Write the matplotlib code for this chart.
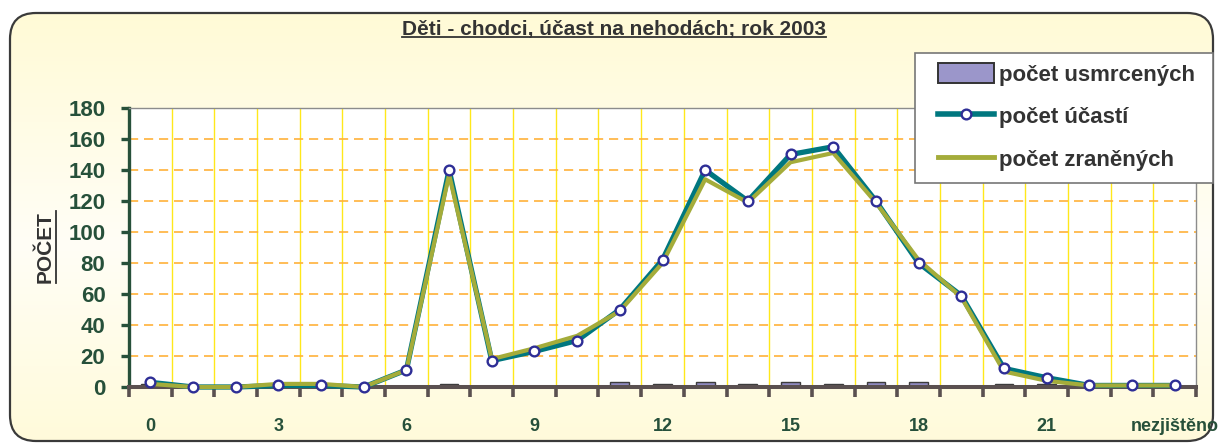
import matplotlib.pyplot as plt
import numpy as np
from matplotlib.patches import FancyBboxPatch, Patch, Rectangle
from matplotlib.lines import Line2D

plt.rcParams['font.family'] = ['Liberation Sans', 'DejaVu Sans']
plt.rcParams['font.weight'] = 'bold'

kategorie = [str(i) for i in range(24)] + ['nezjištěno']
usmrceni = [2, 0, 0, 0, 0, 0, 0, 2, 0, 0, 0, 3, 2, 3, 2, 3, 2, 3, 3, 0, 2, 2, 0, 0, 0]
ucast = [3, 0, 0, 1, 1, 0, 11, 140, 17, 23, 30, 50, 82, 140, 120, 150, 155, 120, 80, 59, 12, 6, 1, 1, 1]
zraneni = [2, 0, 0, 2, 2, 0, 11, 137, 18, 25, 33, 49, 80, 134, 119, 145, 151, 119, 82, 58, 10, 4, 1, 1, 1]

W, H = 1219, 444
fig = plt.figure(figsize=(W / 100, H / 100), dpi=100)
fig.patch.set_facecolor('white')

# background: rounded panel with cream gradient
bg = fig.add_axes([0, 0, 1, 1], zorder=-10)
bg.set_xlim(0, W)
bg.set_ylim(H, 0)
bg.axis('off')
panel = FancyBboxPatch((10, 13), 1203, 428, boxstyle='round,pad=0,rounding_size=26',
                       fc='none', ec='#3a3a3a', lw=1.6, zorder=3)
bg.add_patch(panel)
t = np.linspace(0, 1, 256)
top = np.array([255, 250, 212]) / 255
mid = np.array([255, 254, 246]) / 255
bot = np.array([255, 250, 212]) / 255
w = np.abs(t - 0.55) / 0.55
w = np.clip(w, 0, 1)[:, None]
grad = mid * (1 - w) + np.where(t[:, None] < 0.55, top, bot) * w
im = bg.imshow(grad[:, None, :], extent=(0, W, H, 0), aspect='auto', zorder=1)
im.set_clip_path(panel)

# main plot
ax = fig.add_axes([129 / W, 1 - 387 / H, (1196 - 129) / W, (387 - 108) / H])
ax.set_facecolor('white')
x = np.arange(len(kategorie))
ax.set_xlim(-0.5, len(kategorie) - 0.5)
ax.set_ylim(0, 180)

for k in range(1, len(kategorie)):
    ax.axvline(k - 0.5, color='#FFE81A', lw=1, zorder=1)
for v in range(20, 180, 20):
    ax.axhline(v, color='#FFB13A', lw=1.2, ls=(0, (5.5, 3.5)), zorder=1)

ax.bar(x, usmrceni, width=0.44, color='#8F8AC0', edgecolor='#3c3c3c', lw=1, zorder=3)
ax.plot(x, ucast, color='#00777F', lw=3.8, zorder=4, clip_on=False, solid_joinstyle='round')
ax.plot(x, zraneni, color='#A4AC3A', lw=3.0, zorder=5, clip_on=False, solid_joinstyle='round')
ax.plot(x, ucast, ls='none', marker='o', ms=7, mfc='white', mec='#2E2E96', mew=1.7,
        zorder=6, clip_on=False)

for s in ['top', 'right']:
    ax.spines[s].set_color('#8c8c8c')
    ax.spines[s].set_linewidth(1)
ax.spines['left'].set_color('#27503A')
ax.spines['left'].set_linewidth(2.4)
ax.spines['bottom'].set_color('#5A5050')
ax.spines['bottom'].set_linewidth(2.9)
ax.spines['bottom'].set_zorder(3.5)

ax.set_yticks(range(0, 181, 20))
ax.tick_params(axis='y', length=6, width=2.4, color='#27503A', pad=11,
               labelsize=16, labelcolor='#26503A')
ax.set_xticks(x[::3])
ax.set_xticklabels(kategorie[::3])
ax.set_xticks(np.arange(-0.5, len(kategorie)), minor=True)
ax.tick_params(axis='x', which='major', length=0, pad=22, labelsize=13, labelcolor='#26503A')
ax.tick_params(axis='x', which='minor', length=7, width=2.6, color='#5A5050')

title = fig.text(614 / W, 1 - 30 / H, 'Děti - chodci, účast na nehodách; rok 2003',
                 ha='center', va='center', fontsize=15, color='#333333')
ylab = fig.text(45 / W, 1 - 247 / H, 'POČET', rotation=90, ha='center', va='center',
                fontsize=15, color='#333333')

# legend box drawn separately so it can span to the panel edge
fig.add_artist(Rectangle((915 / W, 1 - 183 / H), (1213 - 915) / W, 130 / H,
                         transform=fig.transFigure, fc='white', ec='#777777', lw=1.2, zorder=2))
handles = [
    Patch(facecolor='#9B96CA', edgecolor='#333333', lw=1.4),
    Line2D([], [], color='#00777F', lw=4, marker='o', ms=7, mfc='white', mec='#2E2E96', mew=1.7),
    Line2D([], [], color='#A4AC3A', lw=3.5),
]
leg = fig.legend(handles, ['počet usmrcených', 'počet účastí', 'počet zraněných'],
                 loc='upper left', bbox_to_anchor=(928 / W, 1 - 53 / H), borderaxespad=0,
                 fontsize=16, frameon=False, handlelength=2.5, handleheight=1.0,
                 handletextpad=0.25, labelspacing=0.9, borderpad=0.45, labelcolor='#333333')

# underlines for title and axis label
fig.canvas.draw()
r = fig.canvas.get_renderer()
bb = title.get_window_extent(r)
fig.add_artist(Line2D([bb.x0 / W, bb.x1 / W], [(bb.y0 + 2) / H] * 2, color='#333333', lw=1.3))
bb = ylab.get_window_extent(r)
fig.add_artist(Line2D([(bb.x1 + 1) / W] * 2, [bb.y0 / H, bb.y1 / H], color='#333333', lw=1.3))

fig.savefig('out.png', dpi=100)
